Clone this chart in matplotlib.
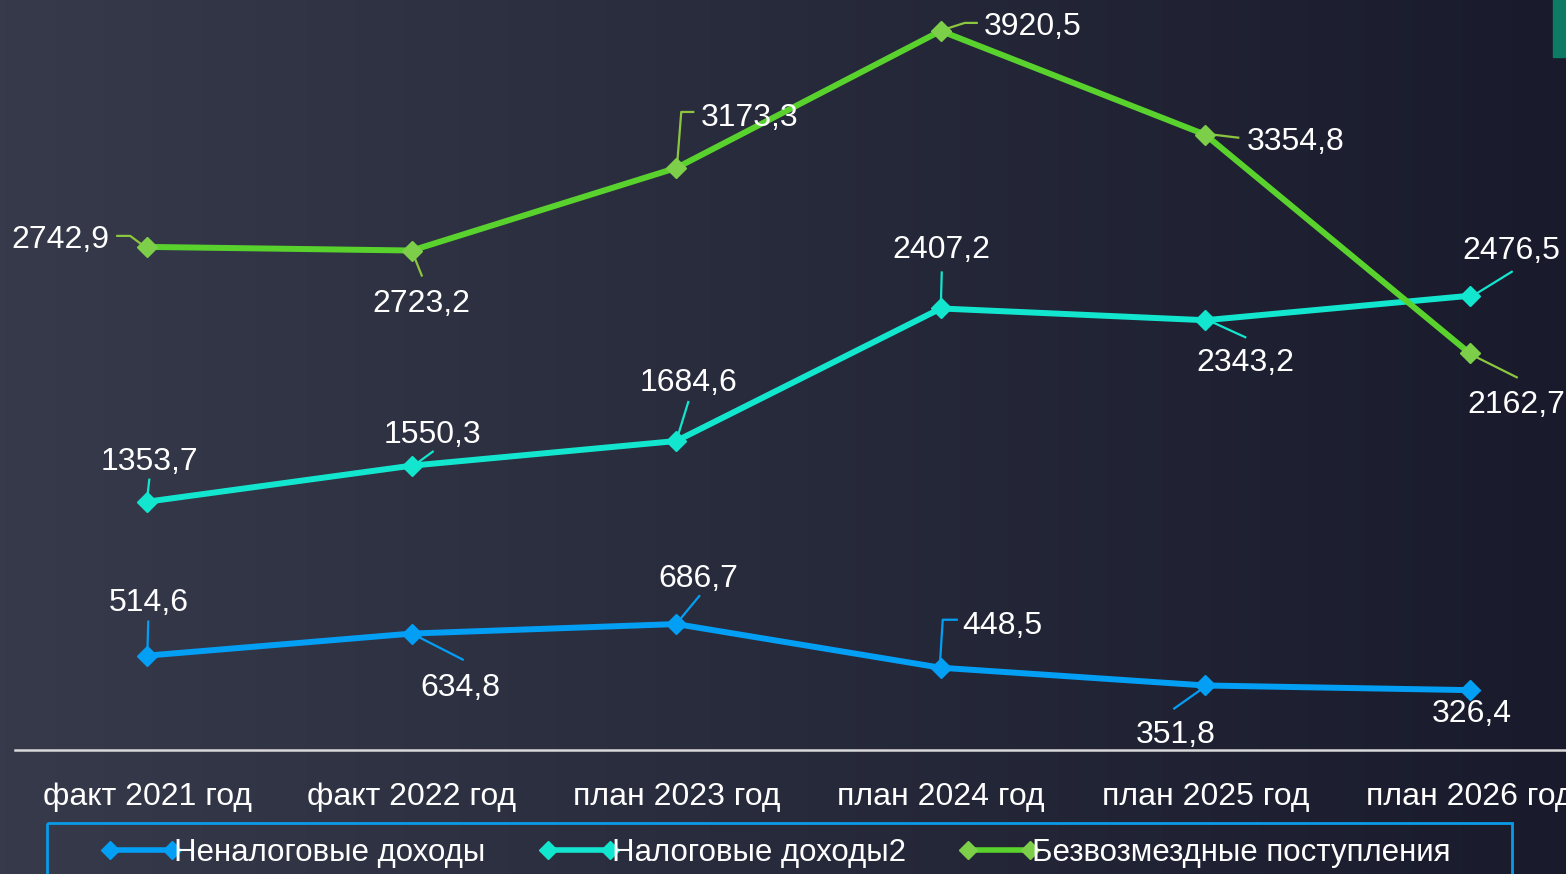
import numpy as np
import matplotlib
matplotlib.use("Agg")
import matplotlib.pyplot as plt
from matplotlib.transforms import offset_copy, IdentityTransform
from matplotlib.patches import Rectangle

plt.rcParams["font.family"] = ["Liberation Sans", "DejaVu Sans"]

# data
years = ["факт 2021 год", "факт 2022 год", "план 2023 год",
         "план 2024 год", "план 2025 год", "план 2026 год"]
nonTax = [514.6, 634.8, 686.7, 448.5, 351.8, 326.4]
tax = [1353.7, 1550.3, 1684.6, 2407.2, 2343.2, 2476.5]
grants = [2742.9, 2723.2, 3173.3, 3920.5, 3354.8, 2162.7]
names = ["Неналоговые доходы", "Налоговые доходы2", "Безвозмездные поступления"]

line_colors = ["#039ff5", "#13e6cf", "#5ad22e"]
marker_colors = ["#039ff5", "#13e6cf", "#7dcf4a"]
leader_colors = ["#039ff5", "#13e6cf", "#8cc63f"]

# label layout: (text dx, text dy, leader polyline) in pixels from the point, y up
label_layout = [
    [((1, 56), [(0, 0), (1, 34)]),
     ((49, -51), [(6, -3), (51, -26)]),
     ((22, 48), [(4, 5), (23, 28)]),
     ((62, 45), [(-1, 1), (2, 48), (16, 48)]),
     ((-30, -47), [(3, 1), (-31, -23)]),
     ((2, -21), [])],
    [((2, 43), [(0, 4), (2, 22)]),
     ((21, 34), [(6, 3), (21, 14)]),
     ((12, 61), [(0, 0), (12, 39)]),
     ((1, 61), [(0, 0), (1, 36)]),
     ((40, -40), [(5, -1), (40, -17)]),
     ((42, 48), [(8, 3), (42, 24)])],
    [((-87, 10), [(-5, 2), (-17, 11), (-30, 11)]),
     ((10, -50), [(0, 0), (10, -25)]),
     ((73, 53), [(1, 5), (5, 56), (17, 56)]),
     ((92, 7), [(2, 1), (24, 8), (36, 8)]),
     ((90, -4), [(8, 0), (33, -3)]),
     ((47, -49), [(7, -4), (47, -24)])],
]

W, H, DPI = 1566, 874, 100
fig = plt.figure(figsize=(W / DPI, H / DPI), dpi=DPI)

# background gradient + frame overlay in pixel coords
bg = fig.add_axes([0, 0, 1, 1], zorder=-1)
bg.set_xlim(0, W)
bg.set_ylim(H, 0)
bg.axis("off")
c0 = np.array([0x36, 0x3a, 0x4a]) / 255
c1 = np.array([0x19, 0x1b, 0x2c]) / 255
t = np.linspace(0, 1, 256)[None, :, None]
grad = c0 + (c1 - c0) * t
grad = np.repeat(grad, 2, axis=0)
bg.imshow(grad, extent=[0, W, H, 0], aspect="auto")
bg.add_patch(Rectangle((1553, 0), 13, 57, color="#0d7a64"))

# legend drawn by hand
bg.add_patch(Rectangle((47, 823), 1465, 60, fill=False, ec="#0a9be8", lw=2))
leg_x = [110, 548, 968]
for i in range(3):
    x0 = leg_x[i]
    bg.plot([x0, x0 + 62], [850, 850], color=line_colors[i], lw=4,
            marker="D", ms=9, mfc=marker_colors[i], mec=marker_colors[i])
    bg.text(x0 + 64, 853, names[i], color="white", fontsize=22.5,
            va="center", ha="left")

# main plot
ax = fig.add_axes([15 / W, 124 / H, 1587 / W, 750 / H])
ax.patch.set_visible(False)
x = np.arange(len(years))
ax.set_xlim(-0.5, len(years) - 0.5)
ax.set_ylim(0, 4089)

for i, vals in enumerate([nonTax, tax, grants]):
    ax.plot(x, vals, color=line_colors[i], lw=4.3, marker="D", ms=10,
            mfc=marker_colors[i], mec=marker_colors[i], zorder=3)
    for j, v in enumerate(vals):
        (tdx, tdy), leader = label_layout[i][j]
        if leader:
            base = ax.transData.transform((x[j], v))
            pts = np.array([base + np.array(p) for p in leader])
            ax.plot(pts[:, 0], pts[:, 1], color=leader_colors[i], lw=1.6,
                    transform=IdentityTransform(), zorder=2)
        lab = f"{v:.1f}".replace(".", ",")
        ax.text(x[j], v, lab, color="white", fontsize=23, ha="center",
                va="center",
                transform=offset_copy(ax.transData, fig, tdx, tdy - 3, units="dots"))

ax.set_yticks([])
ax.set_xticks(x, years)
ax.tick_params(axis="x", length=0, pad=23, labelsize=23, labelcolor="white")
for s in ["top", "right", "left"]:
    ax.spines[s].set_visible(False)
ax.spines["bottom"].set_color("#d9d9d9")
ax.spines["bottom"].set_linewidth(1.8)

fig.savefig("out.png", dpi=DPI)
